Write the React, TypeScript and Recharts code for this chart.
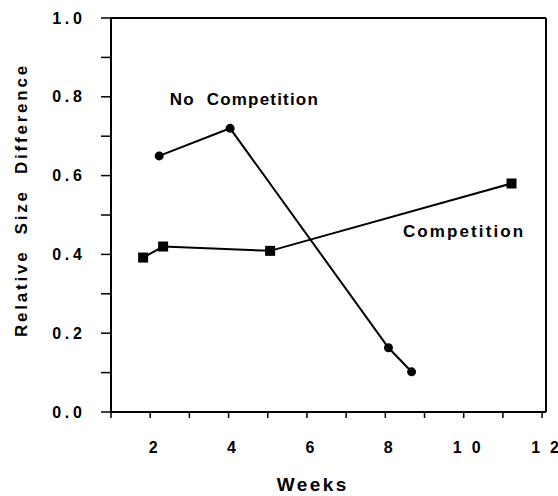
import React from 'react';
import { LineChart, Line, XAxis, YAxis, ReferenceDot, ReferenceLine } from 'recharts';

const noCompWeeks = [2.23, 4.04, 8.08, 8.67];
const noCompValues = [0.65, 0.72, 0.163, 0.102];
const compWeeks = [1.82, 2.33, 5.06, 11.22];
const compValues = [0.392, 0.42, 0.409, 0.58];

const xTicks = [1, 2, 3, 4, 5, 6, 7, 8, 9, 10, 11, 12];
const yTicks = [0, 0.1, 0.2, 0.3, 0.4, 0.5, 0.6, 0.7, 0.8, 0.9, 1.0];
const xMin = 1;
const xMax = 12.1;
const yMin = 0;
const yMax = 1;

const noCompData = noCompWeeks.map((w, i) => ({ week: w, value: noCompValues[i] }));
const compData = compWeeks.map((w, i) => ({ week: w, value: compValues[i] }));

const FONT = '"Liberation Sans", Arial, sans-serif';
const INK = '#000';

const spaced = (s: string, gap: number) =>
  s.split('').map((c, i) => (
    <tspan key={i} dx={i === 0 ? 0 : gap}>
      {c}
    </tspan>
  ));

const XTick = (props: any) => {
  const { x, y, payload } = props;
  const v = payload.value;
  if (v % 2 !== 0) return null;
  return (
    <text x={x + 3} y={y} dy="0.71em" textAnchor="middle" fontFamily={FONT} fontWeight="bold" fontSize={16} fill={INK}>
      {spaced(String(v), 10)}
    </text>
  );
};

const YTick = (props: any) => {
  const { x, y, payload } = props;
  const v = payload.value;
  if (Math.round(v * 10) % 2 !== 0) return null;
  return (
    <text x={x} y={y} dy="0.355em" textAnchor="end" fontFamily={FONT} fontWeight="bold" fontSize={16} fill={INK}>
      {spaced(v.toFixed(1), 3.8)}
    </text>
  );
};

const XLabel = (props: any) => {
  const vb = props.viewBox;
  return (
    <text x={vb.x + vb.width / 2 - 17} y={vb.y + vb.height - 5} textAnchor="middle" fontFamily={FONT} fontWeight="bold" fontSize={19} fill={INK}>
      {spaced('Weeks', 2.4)}
    </text>
  );
};

const YLabel = (props: any) => {
  const vb = props.viewBox;
  const cx = vb.x - 24;
  const cy = vb.y + vb.height / 2 - 15;
  return (
    <text x={cx} y={cy} transform={`rotate(-90 ${cx} ${cy})`} textAnchor="middle" fontFamily={FONT} fontWeight="bold" fontSize={17} letterSpacing={2.8} fill={INK} style={{ whiteSpace: 'pre' }}>
      {'Relative  Size  Difference'}
    </text>
  );
};

const makeAnno = (text: string, ls: number) => (props: any) => {
  const vb = props.viewBox;
  return (
    <text x={vb.x} y={vb.y} textAnchor="start" fontFamily={FONT} fontWeight="bold" fontSize={17} letterSpacing={ls} fill={INK} style={{ whiteSpace: 'pre' }}>
      {text}
    </text>
  );
};

const renderCircle = (p: any) => <circle key={`c${p.index}`} cx={p.cx} cy={p.cy} r={4.5} fill={INK} />;
const renderSquare = (p: any) => <rect key={`s${p.index}`} x={p.cx - 5} y={p.cy - 5} width={10} height={10} fill={INK} />;

export default function App() {
  return (
    <div style={{ position: 'absolute', left: 0, top: 0, background: '#fff' }}>
      <LineChart width={558} height={496} margin={{ top: 18, right: 12, bottom: 0, left: 51 }}>
        <XAxis
          dataKey="week"
          type="number"
          domain={[xMin, xMax]}
          ticks={xTicks}
          interval={0}
          height={84}
          tickSize={6}
          tickMargin={24}
          tick={<XTick />}
          axisLine={{ stroke: INK, strokeWidth: 2 }}
          tickLine={{ stroke: INK, strokeWidth: 1.5 }}
          allowDataOverflow
          label={<XLabel />}
        />
        <YAxis
          type="number"
          domain={[yMin, yMax]}
          ticks={yTicks}
          interval={0}
          width={60}
          tickSize={10}
          tickMargin={19}
          tick={<YTick />}
          axisLine={{ stroke: INK, strokeWidth: 2 }}
          tickLine={{ stroke: INK, strokeWidth: 1.5 }}
          label={<YLabel />}
        />
        <ReferenceLine y={yMax} stroke={INK} strokeWidth={2} />
        <ReferenceLine x={xMax} stroke={INK} strokeWidth={2} />
        <Line data={noCompData} dataKey="value" type="linear" stroke={INK} strokeWidth={2} dot={renderCircle} activeDot={false} isAnimationActive={false} />
        <Line data={compData} dataKey="value" type="linear" stroke={INK} strokeWidth={2} dot={renderSquare} activeDot={false} isAnimationActive={false} />
        <ReferenceDot x={2.5} y={0.78} r={0} fill="none" stroke="none" label={makeAnno('No  Competition', 1.2)} />
        <ReferenceDot x={8.45} y={0.444} r={0} fill="none" stroke="none" label={makeAnno('Competition', 2.1)} />
      </LineChart>
    </div>
  );
}
